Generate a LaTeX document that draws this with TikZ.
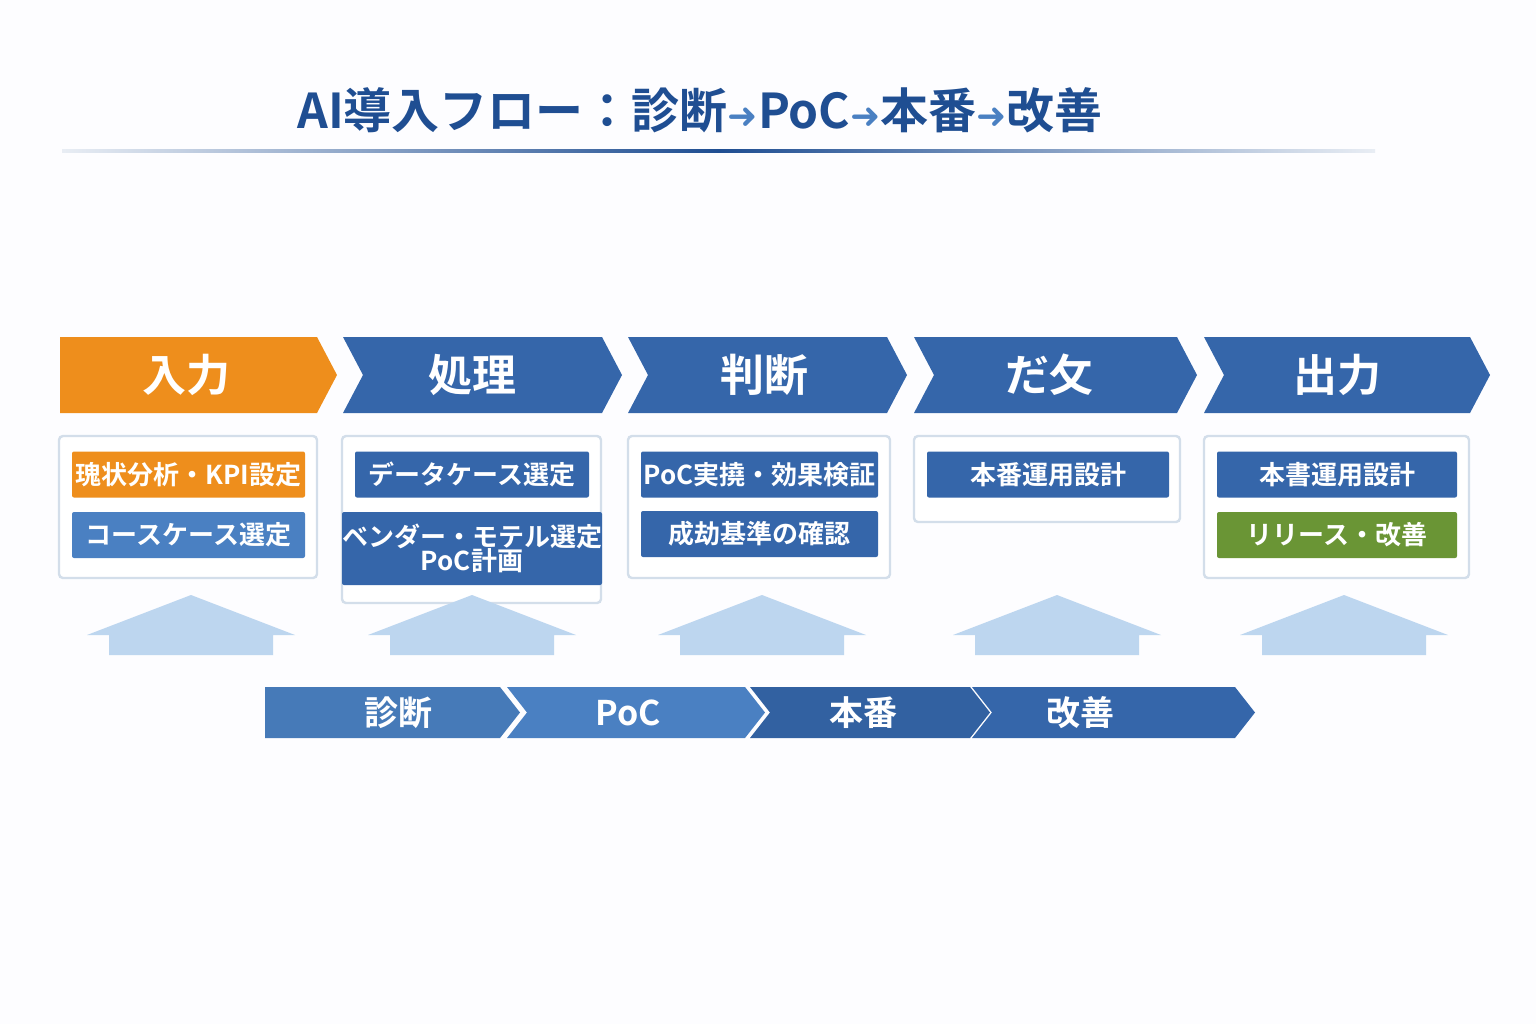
\documentclass[tikz,border=0pt]{standalone}
\usepackage{fontspec}
\setmainfont{Noto Sans CJK JP}[BoldFont={* Bold}]
\newfontfamily\symfont{DejaVu Sans}
\usetikzlibrary{positioning}
\definecolor{navy}{HTML}{1F4E92}
\definecolor{stepblue}{HTML}{3566AA}
\definecolor{lightblue}{HTML}{4A80C2}
\definecolor{stepor}{HTML}{EE8E1C}
\definecolor{stepgr}{HTML}{6A9535}
\definecolor{uparr}{HTML}{BDD6EF}
\definecolor{boxline}{HTML}{D3DEEA}
% chevron: left, right, top, bottom, colour, flat left (1) or notched (0)
\newcommand{\chev}[6]{%
  \ifnum#6=1
    \fill[#5] (#1,#3) -- (#2-20,#3) -- (#2,{(#3+#4)/2}) -- (#2-20,#4) -- (#1,#4) -- cycle;
  \else
    \fill[#5] (#1,#3) -- (#2-20,#3) -- (#2,{(#3+#4)/2}) -- (#2-20,#4) -- (#1,#4) -- (#1+20,{(#3+#4)/2}) -- cycle;
  \fi}
\newcommand{\feedarrow}[1]{%
  \fill[uparr] (#1-104,635) -- (#1,595) -- (#1+104,635) -- (#1+82,635) -- (#1+82,655) -- (#1-82,655) -- (#1-82,635) -- cycle;}
\newcommand{\tarr}{\textcolor{lightblue}{\symfont\fontsize{18}{20}\selectfont ➜}}
\tikzset{
  stage/.style = {font=\bfseries\fontsize{22}{24}\selectfont, text=white},
  flow/.style = {font=\bfseries\fontsize{17}{19}\selectfont, text=white},
  panel/.style = {draw=boxline, line width=1.2pt, fill=white, rounded corners=2pt},
  btn/.style = {minimum height=23pt, inner sep=0pt, text=white,
    font=\bfseries\fontsize{13}{15}\selectfont, align=center, rounded corners=1pt},
}
\begin{document}
\begin{tikzpicture}[x=0.5pt, y=-0.5pt]
\fill[white!97!blue!30] (0,0) rectangle (1536,1024);
\useasboundingbox (0,0) rectangle (1536,1024);

% title
\node[font=\bfseries\fontsize{24}{26}\selectfont, text=navy] (title) at (700,110)
  {AI導入フロー：診断\tarr PoC\tarr 本番\tarr 改善};
\shade[left color=navy!10, right color=navy!10, middle color=navy] (62,149) rectangle (1375,152);

% steps
\chev{60}{337}{337}{413}{stepor}{1}
\chev{343}{622}{337}{413}{stepblue}{0}
\chev{628}{907}{337}{413}{stepblue}{0}
\chev{914}{1197}{337}{413}{stepblue}{0}
\chev{1204}{1490}{337}{413}{stepblue}{0}
\node[stage] (s1) at (186,375) {入力};
\node[stage] (s2) at (472,375) {処理};
\node[stage] (s3) at (764,375) {判断};
\node[stage] (s4) at (1049,375) {だ攵};
\node[stage] (s5) at (1337,375) {出力};

% panels
\draw[panel] (59,436) rectangle (317,578);
\draw[panel] (342,436) rectangle (601,603);
\draw[panel] (628,436) rectangle (890,578);
\draw[panel] (914,436) rectangle (1180,522);
\draw[panel] (1204,436) rectangle (1469,578);

\node[btn, fill=stepor, minimum width=116.5pt] (b11) at (188.5,474.5) {瑰状分析・KPI設定};
\node[btn, fill=lightblue, minimum width=116.5pt] (b12) at (188.5,535) {コースケース選定};
\node[btn, fill=stepblue, minimum width=117pt] (b21) at (472,474.5) {データケース選定};
\node[btn, fill=stepblue, minimum width=117pt, minimum height=36.5pt] (b22) at (472,548.5) {ベンダー・モテル選定\\[-3pt]PoC計画};
\node[btn, fill=stepblue, minimum width=118.5pt] (b31) at (759.5,474.5) {PoC実撓・効果検証};
\node[btn, fill=stepblue, minimum width=118.5pt] (b32) at (759.5,534) {成劫基準の確認};
\node[btn, fill=stepblue, minimum width=121pt] (b41) at (1048,474.5) {本番運用設計};
\node[btn, fill=stepblue, minimum width=120pt] (b51) at (1337,474.5) {本書運用設計};
\node[btn, fill=stepgr, minimum width=120pt] (b52) at (1337,535) {リリース・改善};

% up arrows
\foreach \cx in {191,472,762,1057,1344} {\feedarrow{\cx}}

% phases
\chev{972}{1255}{687}{738}{stepblue}{0}
\chev{750}{990}{687}{738}{stepblue!95!black}{0}
\chev{507}{765}{687}{738}{lightblue}{0}
\chev{265}{520}{687}{738}{lightblue!95!black}{1}
\node[flow] (p1) at (398,713) {診断};
\node[flow] (p2) at (628,713) {PoC};
\node[flow] (p3) at (863,713) {本番};
\node[flow] (p4) at (1080,713) {改善};
\end{tikzpicture}
\end{document}
